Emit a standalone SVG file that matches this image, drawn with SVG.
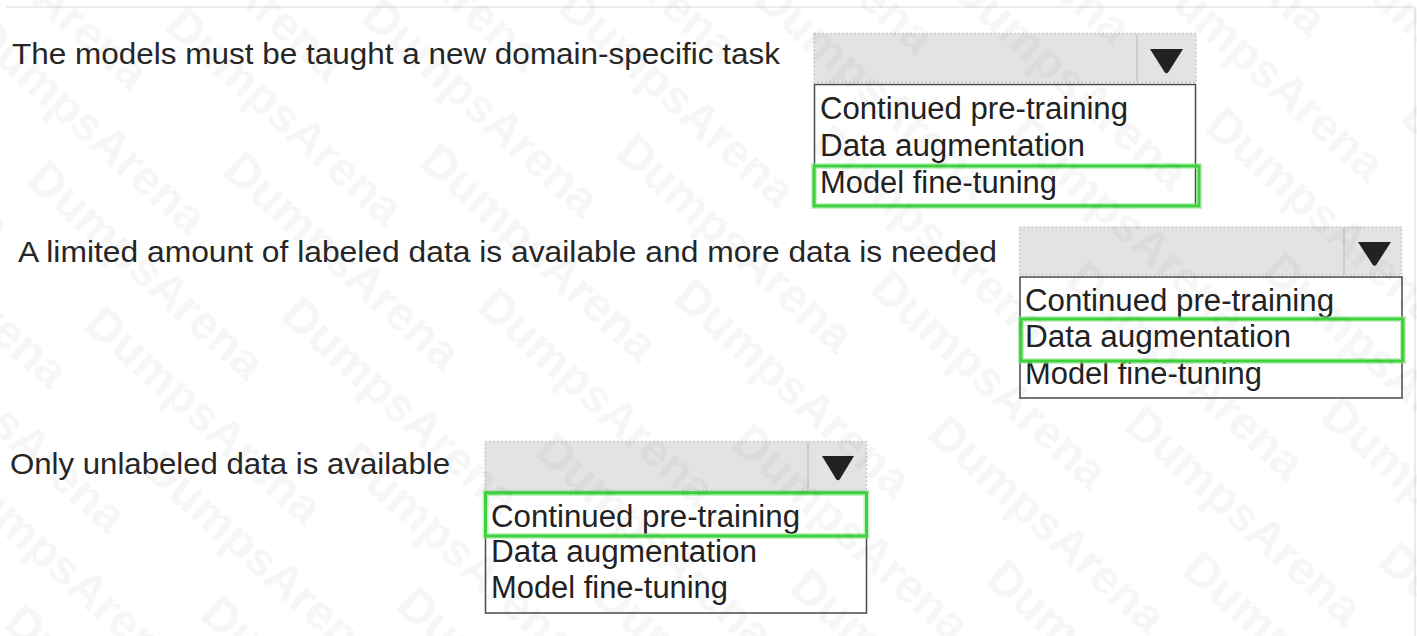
<svg xmlns="http://www.w3.org/2000/svg" width="1417" height="636" viewBox="0 0 1417 636">
  <style>
    .label { font-family: "Liberation Sans", Arial, sans-serif; font-size: 30px; fill: #262626; }
    .opt { font-family: "Liberation Sans", Arial, sans-serif; font-size: 31px; fill: #222222; }
    .head { fill: #e3e3e3; stroke: #c9c9c9; stroke-width: 1.5; stroke-dasharray: 2 2; }
    .divider { stroke: #c4c4c4; stroke-width: 1.5; }
    .arrow { fill: #222222; }
    .list { fill: #ffffff; stroke: #4a4a4a; stroke-width: 1.5; }
    .pick-glow { fill: none; stroke: #8fe88f; stroke-width: 6; opacity: 0.55; }
    .pick { fill: none; stroke: #3ed23e; stroke-width: 3; }
    .frame { stroke: #e6e6e6; stroke-width: 1.5; }
    .wmt text { font-family: "Liberation Sans", Arial, sans-serif; font-weight: bold; font-size: 48px; fill: #000000; }
  </style>
  <defs>
    <!-- repeating diagonal watermark -->
    <pattern id="wm" patternUnits="userSpaceOnUse" width="420" height="207" patternTransform="rotate(42)">
      <g class="wmt">
        <text x="0" y="50">DumpsArena</text>
        <text x="140" y="119">DumpsArena</text>
        <text x="-280" y="119">DumpsArena</text>
        <text x="280" y="188">DumpsArena</text>
        <text x="-140" y="188">DumpsArena</text>
      </g>
    </pattern>
  </defs>

  <rect x="0" y="0" width="1417" height="636" fill="#ffffff"/>
  <line class="frame" x1="6" y1="7" x2="1415" y2="7"/>
  <line class="frame" x1="1415" y1="7" x2="1415" y2="636"/>

  <!-- row 1 -->
  <g id="q1">
    <text class="label" x="12" y="64" textLength="768" lengthAdjust="spacingAndGlyphs">The models must be taught a new domain-specific task</text>
    <rect class="head" x="814" y="33.5" width="382" height="49"/>
    <line class="divider" x1="1137" y1="34" x2="1137" y2="82"/>
    <path class="arrow" d="M1150 49 L1183 49 L1168.5 72 Q1166.5 74.5 1164.5 72 Z"/>
    <rect class="list" x="814.5" y="84.5" width="381" height="121"/>
    <text class="opt" x="820" y="119" textLength="308" lengthAdjust="spacingAndGlyphs">Continued pre-training</text>
    <text class="opt" x="820" y="156" textLength="265" lengthAdjust="spacingAndGlyphs">Data augmentation</text>
    <text class="opt" x="820" y="193" textLength="237" lengthAdjust="spacingAndGlyphs">Model fine-tuning</text>
    <rect class="pick-glow" x="814" y="166" width="385" height="40"/>
    <rect class="pick" x="814" y="166" width="385" height="40"/>
  </g>

  <!-- row 2 -->
  <g id="q2">
    <text class="label" x="18" y="262" textLength="979" lengthAdjust="spacingAndGlyphs">A limited amount of labeled data is available and more data is needed</text>
    <rect class="head" x="1019.5" y="227" width="382" height="48"/>
    <line class="divider" x1="1344" y1="227.5" x2="1344" y2="274.5"/>
    <path class="arrow" d="M1358 242 L1391 242 L1376.5 264.5 Q1374.5 267 1372.5 264.5 Z"/>
    <rect class="list" x="1020" y="277" width="382" height="121"/>
    <text class="opt" x="1025" y="311" textLength="309" lengthAdjust="spacingAndGlyphs">Continued pre-training</text>
    <text class="opt" x="1025" y="347" textLength="266" lengthAdjust="spacingAndGlyphs">Data augmentation</text>
    <text class="opt" x="1025" y="384" textLength="237" lengthAdjust="spacingAndGlyphs">Model fine-tuning</text>
    <rect class="pick-glow" x="1021" y="319" width="382" height="42"/>
    <rect class="pick" x="1021" y="319" width="382" height="42"/>
  </g>

  <!-- row 3 -->
  <g id="q3">
    <text class="label" x="10" y="474" textLength="440" lengthAdjust="spacingAndGlyphs">Only unlabeled data is available</text>
    <rect class="head" x="485" y="441.5" width="381.5" height="48.5"/>
    <line class="divider" x1="808" y1="442" x2="808" y2="489.5"/>
    <path class="arrow" d="M822 456 L854 456 L840 479 Q838 481.5 836 479 Z"/>
    <rect class="list" x="485.5" y="492" width="381" height="121"/>
    <text class="opt" x="491" y="527" textLength="309" lengthAdjust="spacingAndGlyphs">Continued pre-training</text>
    <text class="opt" x="491" y="562" textLength="266" lengthAdjust="spacingAndGlyphs">Data augmentation</text>
    <text class="opt" x="491" y="598" textLength="237" lengthAdjust="spacingAndGlyphs">Model fine-tuning</text>
    <rect class="pick-glow" x="485.5" y="493" width="381" height="43"/>
    <rect class="pick" x="485.5" y="493" width="381" height="43"/>
  </g>

  <!-- faint watermark over the whole sheet -->
  <rect x="0" y="0" width="1417" height="636" fill="url(#wm)" opacity="0.035"/>
</svg>
